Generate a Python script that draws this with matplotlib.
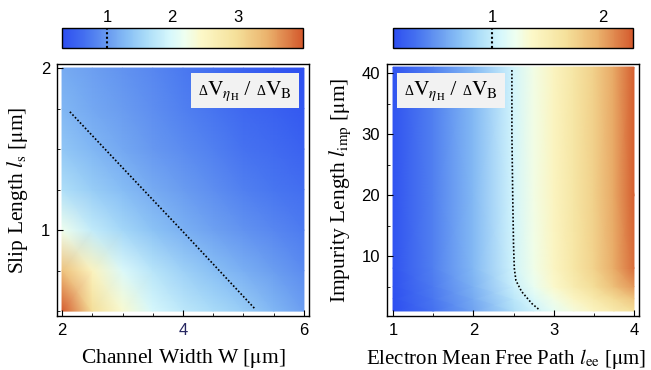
import numpy as np
import matplotlib.pyplot as plt
from matplotlib import colors
from matplotlib.patches import Rectangle
from matplotlib.offsetbox import TextArea, HPacker, AnnotationBbox

plt.rcParams['font.family'] = ['Liberation Serif', 'DejaVu Serif']
plt.rcParams['mathtext.fontset'] = 'stix'

# left panel: ratio vs channel width W (columns) and slip length ls (rows)
width_w = [2.0, 2.5, 3.0, 3.5, 4.0, 4.5, 5.0, 5.5, 6.0]
slip_ls = [0.5, 0.75, 1.0, 1.25, 1.5, 1.75, 2.0]
ratio_left = [
    [4.00, 3.00, 2.40, 1.98, 1.76, 1.60, 1.45, 1.25, 1.05],
    [3.30, 2.55, 2.02, 1.72, 1.50, 1.33, 1.18, 1.04, 0.90],
    [2.20, 1.80, 1.56, 1.36, 1.20, 1.07, 0.95, 0.85, 0.75],
    [1.65, 1.45, 1.30, 1.15, 1.02, 0.91, 0.80, 0.71, 0.63],
    [1.40, 1.25, 1.12, 1.00, 0.90, 0.79, 0.68, 0.60, 0.52],
    [1.25, 1.13, 1.02, 0.91, 0.80, 0.69, 0.58, 0.50, 0.42],
    [1.15, 1.05, 0.95, 0.85, 0.74, 0.63, 0.52, 0.42, 0.33],
]
contour_left_w = [2.13, 3.0, 4.0, 5.2]
contour_left_ls = [1.73, 1.385, 0.99, 0.51]
cbar_left_range = (0.31, 4.0)
cbar_left_ticks = [1, 2, 3]

# right panel: ratio vs mean free path lee (columns) and impurity length (rows)
mfp_ee = [1.0, 1.5, 2.0, 2.5, 2.75, 3.0, 3.25, 3.5, 3.75, 4.0]
imp_len = [1, 3, 5, 8, 20, 41]
ratio_right = [
    [0.11, 0.32, 0.56, 0.89, 1.03, 1.17, 1.29, 1.41, 1.54, 1.67],
    [0.13, 0.35, 0.60, 0.95, 1.10, 1.25, 1.40, 1.55, 1.70, 1.84],
    [0.14, 0.37, 0.64, 1.02, 1.19, 1.35, 1.52, 1.68, 1.88, 2.05],
    [0.15, 0.39, 0.67, 1.05, 1.24, 1.40, 1.59, 1.76, 1.97, 2.20],
    [0.15, 0.39, 0.67, 1.06, 1.25, 1.41, 1.60, 1.77, 1.99, 2.25],
    [0.15, 0.39, 0.67, 1.06, 1.25, 1.41, 1.60, 1.77, 1.99, 2.25],
]
contour_right_ee = [2.48, 2.48, 2.49, 2.50, 2.51, 2.53, 2.60, 2.73, 2.83]
contour_right_imp = [40.5, 30, 20, 12, 8, 6, 4.2, 2.2, 1.1]
cbar_right_range = (0.11, 2.27)
cbar_right_ticks = [1, 2]

# temperature-like colour map
cmap = colors.LinearSegmentedColormap.from_list('temp', [
    (0.0, '#2d4ef0'), (0.1, '#4673f0'), (0.19, '#699bf0'), (0.27, '#87bef5'),
    (0.35, '#aadcf8'), (0.45, '#d7f8fc'), (0.51, '#eefff0'), (0.58, '#fcf8c8'),
    (0.72, '#f5e19b'), (0.85, '#ebb46e'), (1.0, '#d45a2d')])


def style_axes(ax):
    ax.tick_params(direction='in', top=False, right=False, length=4, width=0.8,
                   labelsize=12, labelfontfamily='Liberation Sans', pad=5)
    ax.tick_params(which='minor', direction='in', top=False, right=False, length=2.5, width=0.6)
    for s in ax.spines.values():
        s.set_linewidth(1.0)


def add_cbar(fig, mesh, rect, vrange, ticks):
    cax = fig.add_axes(rect)
    cb = fig.colorbar(mesh, cax=cax, orientation='horizontal')
    cax.set_xlim(*vrange)
    cax.xaxis.set_ticks_position('top')
    cb.set_ticks(ticks)
    cax.tick_params(length=0, labelsize=12, labelfontfamily='Liberation Sans', pad=2)
    cb.outline.set_linewidth(1.0)
    cax.axvline(1, color='k', ls=(0, (1, 1.2)), lw=1.5)


def add_label(ax, x0, x1, y0, y1):
    ax.add_patch(Rectangle((x0, y0), x1 - x0, y1 - y0, transform=ax.transAxes,
                           facecolor='#f2f2f2', edgecolor='none', zorder=3))
    big = dict(fontsize=15.5)
    small = dict(fontsize=10)
    parts = [TextArea('\u0394', textprops=small),
             TextArea(r'$\mathrm{V}_{\eta_\mathrm{H}}$', textprops=big),
             TextArea(' / ', textprops=big),
             TextArea('\u0394', textprops=small),
             TextArea(r'$\mathrm{V}_\mathrm{B}$', textprops=big)]
    box = HPacker(children=parts, align='baseline', pad=0, sep=0)
    ab = AnnotationBbox(box, ((x0 + x1) / 2, (y0 + y1) / 2), xycoords='axes fraction',
                        frameon=False, box_alignment=(0.5, 0.5), zorder=4)
    ax.add_artist(ab)


fig = plt.figure(figsize=(6.51, 3.70), dpi=100)

# left panel
ax1 = fig.add_axes([0.0876, 0.146, 0.387, 0.681])
m1 = ax1.pcolormesh(width_w, slip_ls, np.array(ratio_left), shading='gouraud', cmap=cmap,
                    vmin=cbar_left_range[0], vmax=cbar_left_range[1], rasterized=True)
ax1.plot(contour_left_w, contour_left_ls, color='k', ls=(0, (1, 1.2)), lw=1.2)
ax1.set_xlim(1.917, 6.083)
ax1.set_ylim(0.47, 2.025)
ax1.set_xticks([2, 4, 6])
ax1.set_xticks([2.5, 3, 3.5, 4.5, 5, 5.5], minor=True)
ax1.set_yticks([1, 2])
ax1.set_yticks([0.5, 0.75, 1.25, 1.5, 1.75], minor=True)
style_axes(ax1)
ax1.get_xticklabels()[1].set_color('#262660')
ax1.set_xlabel(r'Channel Width W [$\mathrm{\mu}$m]', fontsize=15.5)
ax1.xaxis.set_label_coords(0.5, -0.125)
ax1.set_ylabel(r'Slip Length $l_\mathrm{s}$ [$\mathrm{\mu}$m]', fontsize=15.5, labelpad=8)
add_label(ax1, 0.532, 0.96, 0.825, 0.964)
add_cbar(fig, m1, [0.0952, 0.870, 0.370, 0.054], cbar_left_range, cbar_left_ticks)

# right panel
ax2 = fig.add_axes([0.5945, 0.146, 0.387, 0.681])
m2 = ax2.pcolormesh(mfp_ee, imp_len, np.array(ratio_right), shading='gouraud', cmap=cmap,
                    vmin=cbar_right_range[0], vmax=cbar_right_range[1], rasterized=True)
ax2.plot(contour_right_ee, contour_right_imp, color='k', ls=(0, (1, 1.2)), lw=1.2)
ax2.set_xlim(0.925, 4.062)
ax2.set_ylim(0.18, 41.5)
ax2.set_xticks([1, 2, 3, 4])
ax2.set_xticks([1.5, 2.5, 3.5], minor=True)
ax2.set_yticks([10, 20, 30, 40])
ax2.set_yticks([5, 15, 25, 35], minor=True)
style_axes(ax2)
ax2.set_xlabel(r'Electron Mean Free Path $l_\mathrm{ee}$ [$\mathrm{\mu}$m]', fontsize=15)
ax2.xaxis.set_label_coords(0.47, -0.125)
ax2.set_ylabel(r'Impurity Length $l_\mathrm{imp}$ [$\mathrm{\mu}$m]', fontsize=15.5, labelpad=6)
add_label(ax2, 0.04, 0.468, 0.825, 0.964)
add_cbar(fig, m2, [0.6037, 0.870, 0.369, 0.054], cbar_right_range, cbar_right_ticks)

fig.savefig('out.png', dpi=100)
